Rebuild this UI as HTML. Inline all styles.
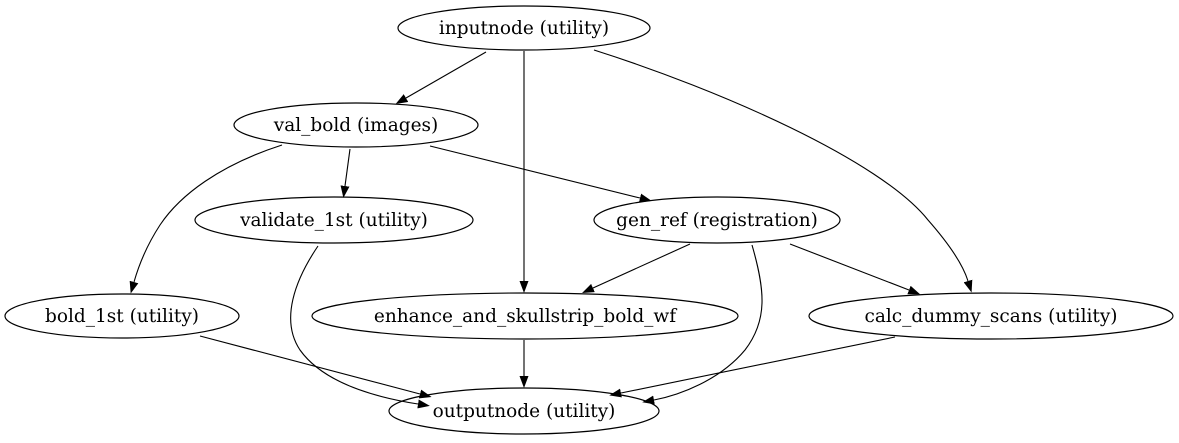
<!DOCTYPE html>
<html><head><style>body{margin:0;background:#fff}svg{display:block}text{font-family:"DejaVu Serif","Liberation Serif",serif;font-size:18.5px;text-anchor:middle}</style></head>
<body>
<svg width="1179" height="443" viewBox="0 0 1179 443" xmlns="http://www.w3.org/2000/svg">
<defs><marker id="a" viewBox="0 0 12 9" refX="0" refY="4.5" markerWidth="12" markerHeight="9" markerUnits="userSpaceOnUse" orient="auto"><path d="M0,0 L12,4.5 L0,9z" fill="#000"/></marker></defs>
<g fill="none" stroke="#000" stroke-width="1.2">
<ellipse cx="524" cy="28" rx="126" ry="22"/>
<ellipse cx="356" cy="125" rx="122" ry="22"/>
<ellipse cx="334" cy="220" rx="139" ry="23"/>
<ellipse cx="717" cy="220" rx="123" ry="23"/>
<ellipse cx="122" cy="316" rx="117" ry="22"/>
<ellipse cx="525" cy="316" rx="213" ry="23"/>
<ellipse cx="991" cy="316" rx="182" ry="23"/>
<ellipse cx="524" cy="411" rx="135" ry="23"/>
</g>
<g fill="none" stroke="#000" stroke-width="1.1" marker-end="url(#a)">
<path d="M486,52 L406,98"/>
<path d="M524,51 L524,281"/>
<path d="M594,50 C720,90 880,160 928,220 C950,245 963,265 968,281"/>
<path d="M282,145 C220,165 180,195 160,225 C145,248 138,268 134,282"/>
<path d="M350,149 L345,186"/>
<path d="M430,146 L640,198"/>
<path d="M318,246 C295,280 280,320 300,350 C325,385 380,398 418,404"/>
<path d="M690,244 L593,288"/>
<path d="M752,245 C765,290 768,320 745,350 C720,380 680,395 654,400"/>
<path d="M790,244 L909,290"/>
<path d="M200,336 L420,394"/>
<path d="M524,340 L524,376"/>
<path d="M895,337 L621,393"/>
</g>
<g fill="#000">
<text x="524" y="34">inputnode (utility)</text>
<text x="356" y="131">val_bold (images)</text>
<text x="334" y="226">validate_1st (utility)</text>
<text x="717" y="226">gen_ref (registration)</text>
<text x="122" y="322">bold_1st (utility)</text>
<text x="525" y="322">enhance_and_skullstrip_bold_wf</text>
<text x="991" y="322">calc_dummy_scans (utility)</text>
<text x="524" y="417">outputnode (utility)</text>
</g>
</svg>
</body></html>
